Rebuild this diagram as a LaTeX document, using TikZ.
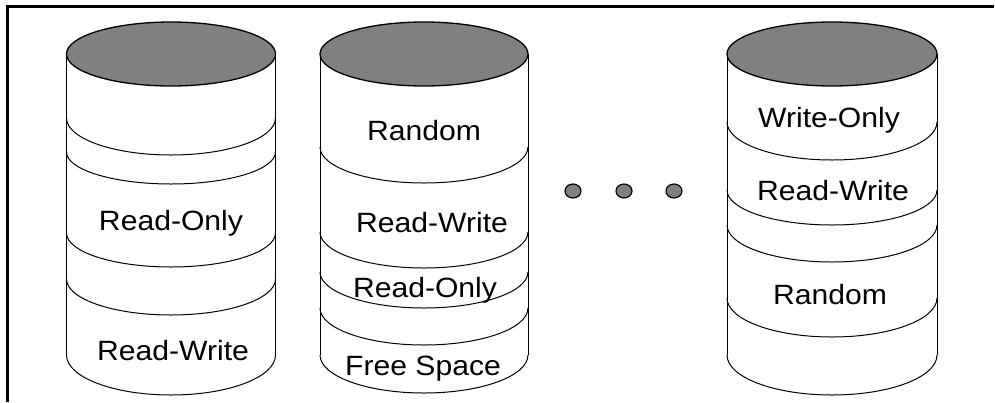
\documentclass[tikz,border=0pt]{standalone}
\usepackage{fontspec}
\newfontfamily\lblfont{Liberation Sans}[FakeStretch=1.08]
\begin{document}
\begin{tikzpicture}[x=1bp,y=-1bp,
  frame/.style={line width=3bp},
  side/.style={line width=1bp},
  band/.style={line width=1bp},
  lid/.style={fill=black!50,draw=black,line width=1.3bp},
  dot/.style={fill=black!50,draw=black,line width=1.2bp},
  lbl/.style={font=\lblfont\fontsize{28}{32}\selectfont,anchor=base,inner sep=0pt}]
\useasboundingbox (0,0) rectangle (995,402);
% frame
\draw[frame] (7,402) -- (7,6) -- (994,6);
% ---------- cylinder 1 ----------
\draw[side] (66.5,54) -- (66.5,355) (275.5,54) -- (275.5,355);
\draw[band] (66.5,118) arc[start angle=180,end angle=0,x radius=104.5,y radius=37];
\draw[band] (66.5,152) arc[start angle=180,end angle=0,x radius=104.5,y radius=32];
\draw[band] (66.5,233) arc[start angle=180,end angle=0,x radius=104.5,y radius=34];
\draw[band] (66.5,279) arc[start angle=180,end angle=0,x radius=104.5,y radius=36];
\draw[band] (66.5,355) arc[start angle=180,end angle=0,x radius=104.5,y radius=40];
\draw[lid] (171,54) ellipse[x radius=104.5,y radius=32];
\node[lbl] (c1ro) at (171,230) {Read-Only};
\node[lbl] (c1rw) at (173,360) {Read-Write};
% ---------- cylinder 2 ----------
\draw[side] (320,54) -- (320,355) (528,54) -- (528,355);
\draw[band] (320,147) arc[start angle=180,end angle=0,x radius=104,y radius=36];
\draw[band] (320,232) arc[start angle=180,end angle=0,x radius=104,y radius=36];
\draw[band] (320,272) arc[start angle=180,end angle=0,x radius=104,y radius=36];
\draw[band] (320,308) arc[start angle=180,end angle=0,x radius=104,y radius=37];
\draw[band] (320,355) arc[start angle=180,end angle=0,x radius=104,y radius=38];
\draw[lid] (424,54) ellipse[x radius=104,y radius=32];
\node[lbl] (c2rd) at (424,140) {Random};
\node[lbl] (c2rw) at (432,232) {Read-Write};
\node[lbl] (c2ro) at (425,297) {Read-Only};
\node[lbl] (c2fs) at (423,375) {Free Space};
% ---------- dots ----------
\draw[dot] (573,191) ellipse[x radius=8,y radius=7];
\draw[dot] (624,191) ellipse[x radius=8,y radius=7];
\draw[dot] (674,191) ellipse[x radius=8,y radius=7];
% ---------- cylinder 3 ----------
\draw[side] (727,54) -- (727,355) (937,54) -- (937,355);
\draw[band] (727,122) arc[start angle=180,end angle=0,x radius=105,y radius=38];
\draw[band] (727,190) arc[start angle=180,end angle=0,x radius=105,y radius=35];
\draw[band] (727,225) arc[start angle=180,end angle=0,x radius=105,y radius=37];
\draw[band] (727,298) arc[start angle=180,end angle=0,x radius=105,y radius=39];
\draw[band] (727,355) arc[start angle=180,end angle=0,x radius=105,y radius=40];
\draw[lid] (832,54) ellipse[x radius=105,y radius=32];
\node[lbl] (c3wo) at (829,127) {Write-Only};
\node[lbl] (c3rw) at (833,200) {Read-Write};
\node[lbl] (c3rd) at (830,304) {Random};
\end{tikzpicture}
\end{document}
